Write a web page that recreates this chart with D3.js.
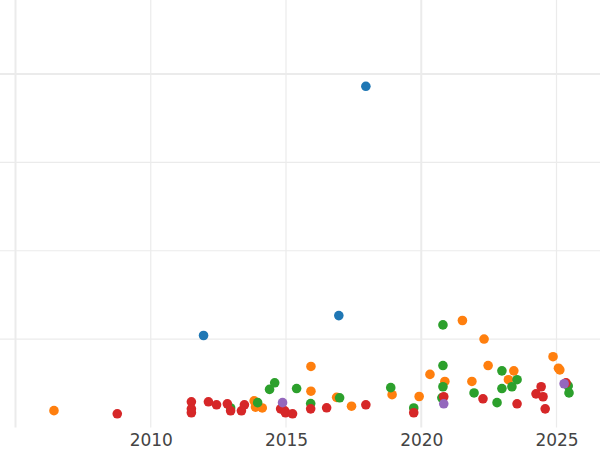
<!DOCTYPE html>
<html>
<head>
<meta charset="utf-8">
<script src="https://cdn.jsdelivr.net/npm/d3@7"></script>
<style>
  html, body { margin: 0; padding: 0; background: #fff; }
  svg { display: block; }
</style>
</head>
<body>
<svg id="chart" width="600" height="450"></svg>
<script>
// ---- data (year, value) per series ----
const blueYears   = [2017.93, 2011.93, 2016.93];
const blueValues  = [387, 105, 127.5];

const orangeYears  = [2006.4, 2013.8, 2013.85, 2014.1, 2015.9, 2015.9, 2016.85, 2017.4, 2018.9, 2019.9, 2020.3, 2020.85, 2021.5, 2021.85, 2022.3, 2022.45, 2023.2, 2023.4, 2024.85, 2025.05, 2025.1];
const orangeValues = [20, 31, 24, 23, 70, 42, 35, 25, 38, 36, 61, 53, 122, 53, 101, 71, 55, 65, 81, 68, 66];

const greenYears  = [2012.93, 2013.93, 2014.37, 2014.56, 2015.37, 2015.89, 2016.96, 2018.85, 2019.7, 2020.74, 2020.78, 2020.78, 2020.78, 2021.93, 2022.78, 2022.96, 2022.96, 2023.33, 2023.52, 2025.41, 2025.44];
const greenValues = [23, 29, 44, 51.5, 45, 28, 34.5, 46, 23, 34.5, 117, 71, 47, 40, 29, 65, 45, 47, 55, 48, 40];

const redYears  = [2008.74, 2011.48, 2011.48, 2011.48, 2012.11, 2012.41, 2012.81, 2012.93, 2013.33, 2013.44, 2014.78, 2014.93, 2014.96, 2015.22, 2015.89, 2016.48, 2017.93, 2019.7, 2020.81, 2022.26, 2023.52, 2024.22, 2024.41, 2024.48, 2024.56, 2025.33];
const redValues = [16.4, 30, 22, 17.6, 30, 26.6, 27.7, 19.8, 19.8, 26.6, 22, 19.8, 17.6, 16.4, 22, 23.2, 26.6, 17.6, 35.7, 33.4, 27.7, 39, 47, 35.7, 22, 51.5];

const purpleYears  = [2014.85, 2020.81, 2025.26];
const purpleValues = [29, 27.7, 50.4];

const xTicks = [2010, 2015, 2020, 2025];
const xGrid = [2005, 2010, 2015, 2020, 2025];
const yGrid = [100, 200, 300, 400];

const series = [
  { years: blueYears,   values: blueValues,   color: "#1f77b4" },
  { years: orangeYears, values: orangeValues, color: "#ff7f0e" },
  { years: greenYears,  values: greenValues,  color: "#2ca02c" },
  { years: redYears,    values: redValues,    color: "#d62728" },
  { years: purpleYears, values: purpleValues, color: "#9467bd" }
];

// ---- layout ----
const svg = d3.select("#chart");
const plotBottom = 427.5;
const x = d3.scaleLinear().domain([2005, 2025]).range([15.5, 556.5]);
const y = d3.scaleLinear().domain([0, 400]).range([plotBottom, 74]);

const thickX = new Set([2005, 2020]);
const thickY = new Set([400]);

// gridlines
svg.append("g").selectAll("line").data(yGrid).join("line")
  .attr("x1", 0).attr("x2", 600)
  .attr("y1", d => y(d)).attr("y2", d => y(d))
  .attr("stroke", "#ebebeb")
  .attr("stroke-width", d => thickY.has(d) ? 2 : 1.2);

svg.append("g").selectAll("line").data(xGrid).join("line")
  .attr("x1", d => x(d)).attr("x2", d => x(d))
  .attr("y1", 0).attr("y2", plotBottom)
  .attr("stroke", "#ebebeb")
  .attr("stroke-width", d => thickX.has(d) ? 2 : 1.2);

// x axis labels
const xAxis = d3.axisBottom(x).tickValues(xTicks).tickSize(0).tickPadding(0).tickFormat(d3.format("d"));
const gx = svg.append("g").attr("transform", `translate(0,${plotBottom})`).call(xAxis);
gx.select(".domain").remove();
gx.selectAll("text")
  .attr("y", 18.5)
  .attr("dy", 0)
  .attr("fill", "#444")
  .style("font-family", "DejaVu Sans, sans-serif")
  .style("font-size", "17px");

// points
const pointGroup = svg.append("g").attr("transform", "translate(0.6,0.8)");
series.forEach(s => {
  const pts = s.years.map((yr, i) => ({ yr, v: s.values[i] }));
  pointGroup.append("g").selectAll("circle").data(pts).join("circle")
    .attr("cx", d => x(d.yr))
    .attr("cy", d => y(d.v))
    .attr("r", 4.8)
    .attr("fill", s.color);
});
</script>
</body>
</html>
